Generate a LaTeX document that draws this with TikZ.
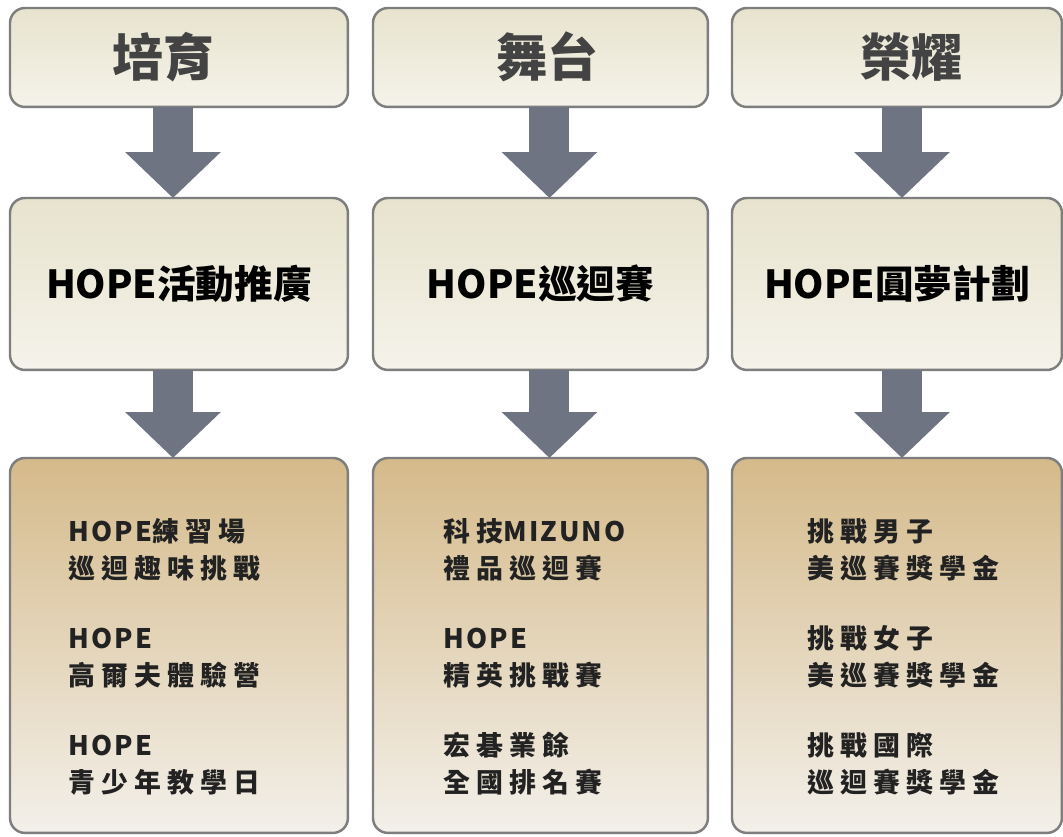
\documentclass[tikz,border=0pt]{standalone}
\usepackage{fontspec}
\newfontfamily\cjk{Noto Sans CJK TC}
\newfontfamily\cjkls{Noto Sans CJK TC}[LetterSpace=23]
\newcommand{\lat}[1]{{\cjk\bfseries\addfontfeature{LetterSpace=8}#1}}
\usetikzlibrary{arrows.meta}
\definecolor{arrowgray}{HTML}{6F7482}
\definecolor{edgegray}{HTML}{7E7E7E}
\definecolor{lightTop}{HTML}{E7E3CE}
\definecolor{lightBot}{HTML}{F5F3EA}
\definecolor{tanTop}{HTML}{D5BA8A}
\definecolor{tanBot}{HTML}{F3F0EA}
\definecolor{inkdark}{HTML}{222222}
\tikzset{
  x=0.02cm, y=-0.02cm,
  boxbase/.style={draw=edgegray, line width=1.4pt, rounded corners=0.3cm,
    anchor=north west, inner sep=0pt, outer sep=0pt},
  headbox/.style={boxbase, top color=lightTop, bottom color=lightBot, minimum height=1.98cm},
  midbox/.style={boxbase, top color=lightTop, bottom color=lightBot, minimum height=3.44cm,
    font=\cjk\bfseries\fontsize{22pt}{26pt}\selectfont, text=black},
  itembox/.style={boxbase, top color=tanTop, bottom color=tanBot, minimum height=7.5cm},
  titletext/.style={font=\cjk\bfseries\fontsize{29pt}{34pt}\selectfont, text=inkdark!85, inner sep=0pt},
  itemtext/.style={font=\cjkls\bfseries\fontsize{15.3pt}{21pt}\selectfont, text=inkdark,
    align=left, anchor=north west, inner sep=0pt},
  bigarrow/.style={draw=arrowgray, line width=0.8cm,
    -{Triangle[width=1.86cm,length=0.92cm]}, arrowgray}
}
\begin{document}
\begin{tikzpicture}
\fill[white] (0,0) rectangle (1063,837);
\useasboundingbox (0,0) rectangle (1063,837);

% top boxes
\node[headbox, minimum width=6.76cm] (t1) at (10,8) {};
\node[headbox, minimum width=6.70cm] (t2) at (373,8) {};
\node[headbox, minimum width=6.60cm] (t3) at (732,8) {};

% middle boxes
\node[midbox, minimum width=6.76cm] (m1) at (10,198) {\raisebox{-0.1cm}{HOPE活動推廣}};
\node[midbox, minimum width=6.70cm] (m2) at (373,198) {\raisebox{-0.1cm}{HOPE巡迴賽}};
\node[midbox, minimum width=6.60cm] (m3) at (732,198) {\raisebox{-0.1cm}{HOPE圓夢計劃}};

% bottom boxes
\node[itembox, minimum width=6.76cm] (b1) at (10,458) {};
\node[itembox, minimum width=6.70cm] (b2) at (373,458) {};
\node[itembox, minimum width=6.60cm] (b3) at (732,458) {};

% arrows
\draw[bigarrow] ([xshift=-0.12cm]t1.south) -- ([xshift=-0.12cm]m1.north);
\draw[bigarrow] ([xshift=-0.12cm]m1.south) -- ([xshift=-0.12cm]b1.north);
\draw[bigarrow] ([xshift=0.18cm]t2.south) -- ([xshift=0.18cm]m2.north);
\draw[bigarrow] ([xshift=0.18cm]m2.south) -- ([xshift=0.18cm]b2.north);
\draw[bigarrow] ([xshift=0.1cm]t3.south) -- ([xshift=0.1cm]m3.north);
\draw[bigarrow] ([xshift=0.1cm]m3.south) -- ([xshift=0.1cm]b3.north);

% titles
\node[titletext] (h1) at (163,57) {培育};
\node[titletext] (h2) at (547,57) {舞台};
\node[titletext] (h3) at (911,57) {榮耀};

% item texts
\node[itemtext] (i1) at (68,518) {\lat{HOPE}練習場\\巡迴趣味挑戰\\[19pt]\lat{HOPE}\\高爾夫體驗營\\[19pt]\lat{HOPE}\\青少年教學日};
\node[itemtext] (i2) at (443,518) {科技\lat{MIZUNO}\\禮品巡迴賽\\[19pt]\lat{HOPE}\\精英挑戰賽\\[19pt]宏碁業餘\\全國排名賽};
\node[itemtext] (i3) at (807,518) {挑戰男子\\美巡賽獎學金\\[19pt]挑戰女子\\美巡賽獎學金\\[19pt]挑戰國際\\巡迴賽獎學金};
\end{tikzpicture}
\end{document}
